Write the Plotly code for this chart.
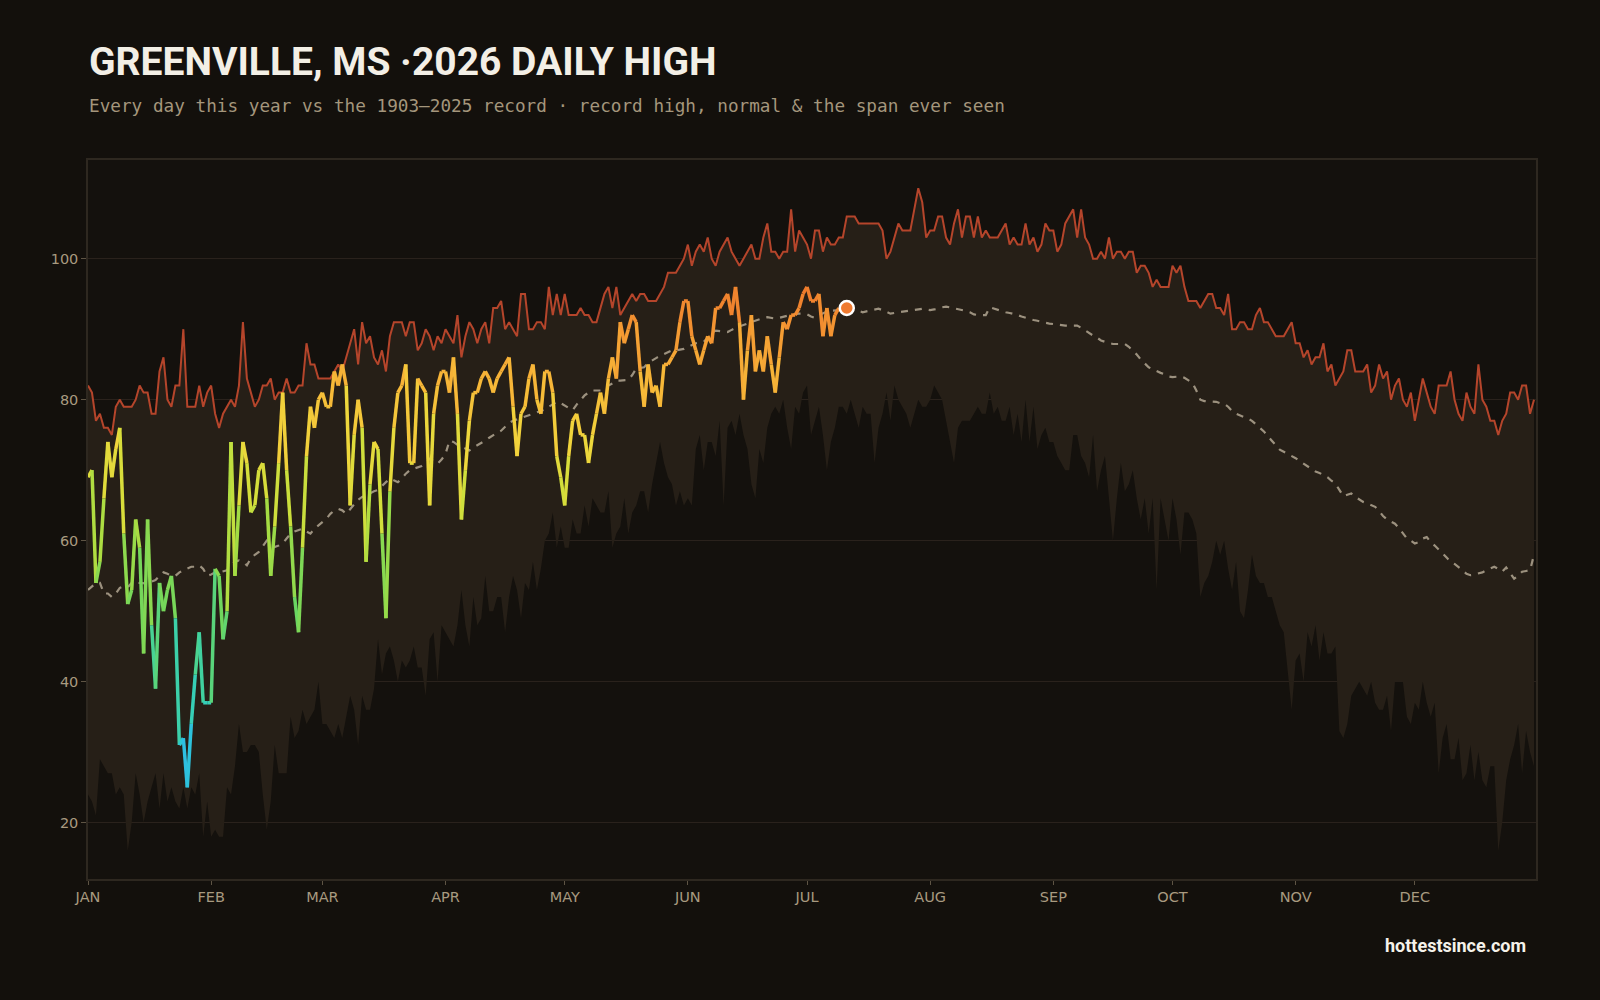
import pandas as pd
import plotly.graph_objects as go
from plotly.colors import hex_to_rgb

# ---------------- data ----------------
MONTHS = ["JAN", "FEB", "MAR", "APR", "MAY", "JUN", "JUL", "AUG", "SEP", "OCT", "NOV", "DEC"]
Y_TICKS = [20, 40, 60, 80, 100]

RECORD_HIGH = [
    82, 81, 77, 78, 76, 76, 75, 79, 80, 79,
    79, 79, 80, 82, 81, 81, 78, 78, 84, 86,
    80, 79, 82, 82, 90, 79, 79, 79, 82, 79,
    81, 82, 78, 76, 78, 79, 80, 79, 82, 91,
    83, 81, 79, 80, 82, 82, 83, 80, 81, 81,
    83, 81, 81, 82, 82, 88, 85, 85, 83, 83,
    83, 83, 84, 85, 84, 86, 88, 90, 85, 91,
    88, 89, 86, 85, 87, 84, 89, 91, 91, 91,
    89, 91, 91, 87, 88, 90, 89, 87, 89, 88,
    90, 89, 88, 92, 86, 89, 91, 90, 88, 90,
    91, 88, 93, 93, 94, 90, 91, 90, 89, 95,
    95, 90, 90, 91, 91, 90, 96, 92, 95, 92,
    95, 92, 92, 92, 93, 92, 92, 91, 91, 93,
    95, 96, 93, 96, 92, 93, 94, 95, 94, 95,
    95, 94, 94, 94, 95, 96, 98, 98, 98, 99,
    100, 102, 99, 101, 102, 101, 103, 100, 99, 101,
    102, 103, 101, 100, 99, 100, 101, 102, 100, 100,
    103, 105, 101, 101, 100, 101, 101, 107, 101, 104,
    103, 102, 100, 104, 104, 101, 103, 102, 102, 103,
    103, 106, 106, 106, 105, 105, 105, 105, 105, 105,
    104, 100, 101, 103, 105, 104, 104, 104, 107, 110,
    108, 103, 104, 104, 106, 106, 103, 102, 105, 107,
    103, 106, 106, 103, 106, 103, 104, 103, 103, 103,
    104, 105, 102, 103, 102, 102, 105, 102, 103, 101,
    102, 105, 104, 104, 101, 102, 105, 106, 107, 103,
    107, 103, 102, 100, 100, 101, 100, 103, 100, 101,
    101, 100, 101, 101, 98, 99, 99, 98, 96, 97,
    96, 96, 96, 99, 98, 99, 96, 94, 94, 94,
    93, 94, 95, 95, 93, 93, 92, 95, 90, 90,
    91, 91, 90, 90, 92, 93, 91, 91, 90, 89,
    89, 89, 90, 91, 88, 88, 86, 87, 85, 86,
    86, 88, 84, 85, 82, 83, 84, 87, 87, 84,
    84, 84, 85, 81, 82, 85, 83, 84, 80, 82,
    83, 80, 79, 81, 77, 80, 83, 81, 79, 78,
    82, 82, 82, 84, 80, 78, 77, 81, 79, 78,
    85, 80, 79, 77, 77, 75, 77, 78, 81, 81,
    80, 82, 82, 78, 80,
]

RECORD_LOW = [
    24, 23, 21, 29, 28, 27, 27, 24, 25, 24,
    16, 20, 27, 24, 20, 23, 25, 27, 22, 27,
    23, 25, 23, 22, 25, 22, 25, 24, 27, 18,
    23, 18, 19, 18, 18, 25, 24, 28, 34, 30,
    30, 31, 31, 30, 24, 19, 23, 31, 27, 27,
    27, 35, 32, 33, 36, 34, 35, 36, 40, 34,
    34, 33, 32, 34, 32, 35, 38, 36, 31, 38,
    36, 36, 39, 46, 41, 44, 45, 43, 40, 43,
    42, 43, 45, 42, 42, 38, 46, 47, 40, 48,
    47, 46, 45, 48, 53, 48, 45, 52, 48, 49,
    55, 50, 50, 52, 52, 47, 52, 55, 53, 49,
    54, 53, 57, 53, 56, 60, 61, 64, 59, 62,
    59, 59, 63, 61, 61, 65, 62, 66, 65, 64,
    64, 67, 59, 61, 62, 66, 61, 64, 65, 67,
    67, 64, 68, 71, 74, 71, 69, 68, 65, 67,
    65, 66, 65, 73, 75, 70, 74, 74, 72, 77,
    65, 76, 77, 75, 78, 75, 73, 68, 66, 73,
    71, 76, 78, 79, 78, 80, 76, 73, 79, 78,
    81, 82, 75, 77, 79, 75, 70, 74, 76, 79,
    79, 78, 80, 78, 76, 79, 78, 78, 71, 76,
    78, 81, 77, 82, 80, 79, 78, 76, 78, 80,
    79, 79, 80, 82, 81, 80, 77, 74, 71, 76,
    77, 77, 77, 78, 79, 78, 78, 81, 78, 79,
    77, 77, 79, 75, 78, 74, 80, 74, 79, 73,
    75, 76, 74, 74, 72, 71, 70, 70, 75, 75,
    72, 71, 69, 75, 67, 70, 72, 66, 60, 66,
    71, 67, 68, 70, 66, 63, 66, 61, 66, 53,
    66, 63, 60, 66, 63, 58, 64, 64, 63, 61,
    52, 54, 55, 57, 60, 58, 60, 56, 53, 57,
    50, 49, 53, 58, 55, 54, 54, 52, 52, 50,
    48, 47, 41, 36, 43, 44, 40, 47, 45, 48,
    43, 47, 44, 44, 45, 33, 32, 34, 38, 39,
    40, 39, 38, 40, 37, 36, 36, 38, 33, 40,
    40, 40, 35, 34, 37, 36, 40, 37, 35, 37,
    27, 32, 34, 29, 29, 32, 26, 27, 31, 26,
    30, 26, 25, 28, 28, 16, 20, 26, 29, 31,
    34, 27, 33, 30, 28,
]

NORMAL = [
    53, 53.5, 54, 54, 52.5, 52.5, 52, 52.5, 53.3, 53.5,
    53.4, 54, 54.4, 54, 54, 53.9, 54.2, 54.4, 55, 55.5,
    55.3, 55, 55, 55.5, 55.8, 56, 56.3, 56.3, 56.5, 56,
    55, 55.2, 55.5, 55.5, 55.6, 55.8, 56.5, 57, 57.2, 57,
    56.5, 57.5, 58, 58.4, 59.2, 60, 59.5, 59.1, 59.3, 59.6,
    60.3, 61, 61.3, 61.5, 61.7, 61.3, 61, 61.7, 62.2, 62.6,
    63.1, 63.8, 64.3, 64.5, 64.3, 63.8, 64.5, 65.2, 65.8, 66.2,
    66.5, 66.7, 67, 67.2, 67.8, 68.3, 68.8, 68.5, 68.3, 68.8,
    69.5, 70, 70.2, 70.4, 70.6, 71, 71.6, 71.3, 70.9, 71.5,
    72.3, 74.2, 74, 73.6, 73.3, 73, 72.8, 73.2, 73.5, 73.8,
    74.2, 74.6, 75, 75.3, 75.6, 76.2, 76.7, 77, 77.2, 77.3,
    77.5, 77.8, 78, 78.2, 78.3, 78.6, 79, 79.4, 79.7, 79.5,
    79.2, 78.8, 78.5, 79.3, 80, 80.6, 81, 81.3, 81.3, 81.3,
    81.5, 82, 82.3, 82.7, 82.7, 82.7, 82.8, 83.5, 84.4, 84.5,
    84.6, 85.2, 85.6, 85.9, 86.2, 86.5, 86.7, 87, 87, 87.1,
    87.2, 87.5, 87.8, 88, 88.1, 88.2, 88.8, 89.5, 89.8, 89.7,
    89.6, 89.6, 89.9, 90.2, 90.4, 90.6, 90.8, 91, 91.3, 91.5,
    91.6, 91.7, 91.6, 91.5, 91.6, 91.7, 91.9, 92.1, 92.2, 92.2,
    92.2, 92.1, 91.8, 91.6, 92, 92.3, 92.5, 92.6, 92.7, 92.7,
    92.7, 92.8, 92.7, 92.7, 92.6, 92.4, 92.5, 92.7, 92.8, 92.9,
    92.7, 92.5, 92.2, 92.3, 92.4, 92.4, 92.5, 92.6, 92.7, 92.8,
    92.9, 92.8, 92.7, 92.8, 93, 93.1, 93.2, 93.1, 93, 92.9,
    92.8, 92.6, 92.4, 92.1, 92, 92, 92, 93.1, 92.9, 92.8,
    92.5, 92.4, 92.3, 92.2, 92, 91.8, 91.6, 91.5, 91.3, 91.2,
    91, 90.9, 90.8, 90.7, 90.6, 90.5, 90.5, 90.5, 90.5, 90.5,
    90.2, 89.8, 89.5, 89.1, 88.8, 88.4, 88.2, 88, 87.9, 87.9,
    87.9, 87.9, 87.5, 87, 86.4, 85.7, 85.1, 84.6, 84.3, 84,
    83.8, 83.6, 83.3, 83.2, 83.3, 83.3, 83.1, 82.8, 82.4, 81.3,
    80, 79.8, 79.8, 79.8, 79.7, 79.5, 79.4, 79, 78.4, 78,
    77.8, 77.5, 77.3, 77, 76.5, 76.1, 75.5, 74.8, 74.2, 73.6,
    72.9, 72.6, 72.3, 72.1, 71.7, 71.3, 70.9, 70.5, 70.1, 69.8,
    69.6, 69.3, 69, 68.5, 68.1, 67.2, 66.3, 66.5, 66.7, 66.2,
    65.8, 65.5, 65.3, 65, 64.8, 64.2, 63.5, 63, 62.7, 62.4,
    61.8, 61, 60.3, 60, 59.6, 59.8, 60.3, 60.5, 59.8, 59.3,
    58.8, 58.2, 57.6, 57, 56.7, 56.3, 55.8, 55.3, 55.1, 55.2,
    55.3, 55.5, 55.8, 56, 56.3, 56, 55.6, 56.2, 55.4, 54.6,
    55, 55.6, 55.7, 55.8, 58,
]

HIGH_2026 = [
    69, 70, 54, 57, 66, 74, 69, 73, 76, 61,
    51, 53, 63, 59, 44, 63, 48, 39, 54, 50,
    53, 55, 49, 31, 32, 25, 34, 41, 47, 37,
    37, 37, 56, 55, 46, 50, 74, 55, 65, 74,
    71, 64, 65, 70, 71, 66, 55, 62, 71, 81,
    70, 62, 52, 47, 59, 72, 79, 76, 80, 81,
    79, 79, 84, 82, 85, 82, 65, 75, 80, 76,
    57, 68, 74, 73, 61, 49, 67, 76, 81, 82,
    85, 71, 71, 83, 82, 81, 65, 78, 82, 84,
    84, 81, 86, 78, 63, 70, 77, 81, 81, 83,
    84, 83, 81, 83, 84, 85, 86, 79, 72, 78,
    79, 83, 85, 80, 78, 84, 84, 81, 72, 69,
    65, 72, 77, 78, 75, 75, 71, 75, 78, 81,
    78, 83, 86, 83, 91, 88, 90, 92, 91, 84,
    79, 85, 81, 82, 79, 85, 85, 86, 87, 91,
    94, 94, 89, 87, 85, 87, 89, 88, 93, 93,
    94, 95, 92, 96, 91, 80, 87, 92, 84, 87,
    84, 89, 85, 81, 86, 91, 90, 92, 92, 93,
    95, 96, 94, 94, 95, 89, 93, 89, 92, 93,
    93, 93,
]

DAYS = pd.date_range("2026-01-01", periods=len(RECORD_HIGH), freq="D")
DAYS_2026 = DAYS[: len(HIGH_2026)]
MONTH_STARTS = pd.date_range("2026-01-01", periods=12, freq="MS")

# ---------------- styling ----------------
PAPER = "#13100c"
PLOT_BG = "#14110d"
BAND = "#261f17"
GRID = "#2a221c"
FRAME = "#2e2820"
TICK_TXT = "#a89a80"
REC_COLOR = "#b5452b"
NORM_COLOR = "#a39885"

STOPS = [(25, "#2fb6f2"), (33, "#2ccbcb"), (42, "#40d2a0"), (50, "#6dd65e"),
         (60, "#a2dc44"), (67, "#d2df3b"), (74, "#f0d63c"), (82, "#f7b838"),
         (89, "#f49b33"), (96, "#ee792c")]


def temp_color(v):
    if v <= STOPS[0][0]:
        return STOPS[0][1]
    for (v0, c0), (v1, c1) in zip(STOPS, STOPS[1:]):
        if v <= v1:
            t = (v - v0) / (v1 - v0)
            a, b = hex_to_rgb(c0), hex_to_rgb(c1)
            return "rgb(%d,%d,%d)" % tuple(round(p + (q - p) * t) for p, q in zip(a, b))
    return STOPS[-1][1]


fig = go.Figure()

# record low (bottom of the span) and record high, band filled between them
fig.add_trace(go.Scatter(x=DAYS, y=RECORD_LOW, mode="lines",
                         line=dict(color="rgba(0,0,0,0)", width=0),
                         hoverinfo="skip", showlegend=False))
fig.add_trace(go.Scatter(x=DAYS, y=RECORD_HIGH, mode="lines", fill="tonexty",
                         fillcolor=BAND, line=dict(color=REC_COLOR, width=2),
                         hoverinfo="skip", showlegend=False))

# normal
fig.add_trace(go.Scatter(x=DAYS, y=NORMAL, mode="lines",
                         line=dict(color=NORM_COLOR, width=2.2, dash="7px,7px"),
                         opacity=0.95, hoverinfo="skip", showlegend=False))

# 2026 daily highs, coloured by temperature
for i in range(len(HIGH_2026) - 1):
    seg_y = HIGH_2026[i:i + 2]
    fig.add_trace(go.Scatter(x=DAYS_2026[i:i + 2], y=seg_y, mode="lines",
                             line=dict(color=temp_color(sum(seg_y) / 2), width=3.5),
                             hoverinfo="skip", showlegend=False))

# latest day marker
fig.add_trace(go.Scatter(x=[DAYS_2026[-1]], y=[HIGH_2026[-1]], mode="markers",
                         marker=dict(size=14, color="#ef7a30",
                                     line=dict(color="#ffffff", width=2.5)),
                         hoverinfo="skip", showlegend=False))

axis_font = dict(family="DejaVu Sans", size=14.5, color=TICK_TXT)

fig.update_layout(
    width=1600, height=1000,
    paper_bgcolor=PAPER, plot_bgcolor=PLOT_BG,
    margin=dict(l=88, r=64, t=160, b=121),
    showlegend=False, hovermode=False,
    xaxis=dict(type="date", range=["2026-01-01", "2026-12-31 12:00"],
               tickvals=MONTH_STARTS, ticktext=MONTHS,
               ticks="outside", ticklen=4, tickcolor="#5e5444",
               showgrid=False, zeroline=False,
               showline=True, linecolor=FRAME, linewidth=1.5, mirror=True,
               tickfont=axis_font),
    yaxis=dict(range=[12, 114], tickvals=Y_TICKS,
               ticks="outside", ticklen=5, tickcolor="#5e5444",
               showgrid=True, gridcolor=GRID, gridwidth=1, zeroline=False,
               showline=True, linecolor=FRAME, linewidth=1.5, mirror=True,
               tickfont=axis_font),
    annotations=[
        dict(text="<b>GREENVILLE, MS ·2026 DAILY HIGH</b>", xref="paper", yref="paper",
             x=-0.001, y=1.136, xanchor="left", yanchor="middle", showarrow=False,
             font=dict(family="Roboto", size=39, color="#f3efe6")),
        dict(text="Every day this year vs the 1903–2025 record · record high, normal &amp; the span ever seen",
             xref="paper", yref="paper", x=-0.001, y=1.0751, xanchor="left", yanchor="middle",
             showarrow=False,
             font=dict(family="DejaVu Sans Mono", size=17.7, color="#a4967c")),
        dict(text="<b>hottestsince.com</b>", xref="paper", yref="paper",
             x=0.9945, y=-0.0918, xanchor="right", yanchor="middle", showarrow=False,
             font=dict(family="Roboto", size=18, color="#f5f2ea")),
    ],
)

fig.write_html("out.html")
